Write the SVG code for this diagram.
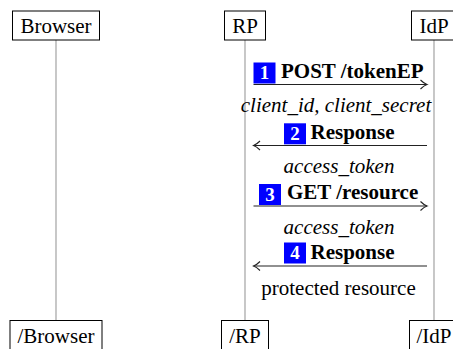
<svg xmlns="http://www.w3.org/2000/svg" width="453" height="349" viewBox="0 0 453 349">
<defs>
<style>
.box{fill:#fff;stroke:#000;stroke-width:1}
.life{stroke:#aaa;stroke-width:1.3;fill:none}
text{font-family:'Liberation Serif','Times New Roman',Times,serif}
.t{font-size:21px;fill:#000}
.b{font-weight:bold}
.i{font-style:italic}
.mid{text-anchor:middle}
.badge{fill:#0000ff}
.num{font-size:19px;font-weight:bold;fill:#fff;text-anchor:middle}
.msg{stroke:#222;stroke-width:1.1;fill:none}
</style>
<marker id="ah" markerWidth="10" markerHeight="12" refX="8" refY="6" orient="auto" markerUnits="userSpaceOnUse">
<path d="M1.5,1.5 Q5,5 8,6 Q5,7 1.5,10.5" fill="none" stroke="#222" stroke-width="1.1"/>
</marker>
</defs>
<g id="lifelines">
<line class="life" x1="56" y1="40" x2="56" y2="321"/>
<line class="life" x1="245" y1="40" x2="245" y2="321"/>
<line class="life" x1="434" y1="40" x2="434" y2="321"/>
</g>
<g id="browser" font-family="Liberation Serif, serif">
<rect class="box" x="12.5" y="11" width="87" height="29"/>
<text class="t mid" x="56" y="32.5">Browser</text>
</g>
<g id="rp" font-family="Liberation Serif, serif">
<rect class="box" x="224.5" y="11" width="41" height="29"/>
<text class="t mid" x="245" y="32.5">RP</text>
</g>
<g id="idp" font-family="Liberation Serif, serif">
<rect class="box" x="411.5" y="11" width="45" height="29"/>
<text class="t mid" x="434" y="32.5">IdP</text>
</g>
<g id="browser-end" font-family="Liberation Serif, serif">
<rect class="box" x="10" y="320.5" width="92" height="29"/>
<text class="t mid" x="56" y="343">/Browser</text>
</g>
<g id="rp-end" font-family="Liberation Serif, serif">
<rect class="box" x="221.5" y="320.5" width="47" height="29"/>
<text class="t mid" x="245" y="343">/RP</text>
</g>
<g id="idp-end" font-family="Liberation Serif, serif">
<rect class="box" x="409.5" y="320.5" width="50" height="29"/>
<text class="t mid" x="434" y="343">/IdP</text>
</g>
<g id="connectors">
<line class="msg" x1="253.5" y1="84.5" x2="427" y2="84.5" marker-end="url(#ah)"/>
<line class="msg" x1="427" y1="145.5" x2="253.5" y2="145.5" marker-end="url(#ah)"/>
<line class="msg" x1="253.5" y1="206" x2="427" y2="206" marker-end="url(#ah)"/>
<line class="msg" x1="427" y1="266" x2="253.5" y2="266" marker-end="url(#ah)"/>
</g>
<g id="labels" font-family="Liberation Serif, serif">
<rect class="badge" x="253.5" y="62.5" width="22" height="21"/>
<text class="num" x="264.5" y="79">1</text>
<text class="t b" x="281" y="78.3">POST /tokenEP</text>
<text class="t i mid" x="336" y="112">client_id, client_secret</text>
<rect class="badge" x="284" y="123.3" width="22" height="21"/>
<text class="num" x="295" y="139.8">2</text>
<text class="t b" x="310.5" y="139.3">Response</text>
<text class="t i mid" x="339" y="173.3">access_token</text>
<rect class="badge" x="259" y="184" width="22" height="21"/>
<text class="num" x="270" y="200.5">3</text>
<text class="t b" x="287" y="199">GET /resource</text>
<text class="t i mid" x="339" y="234.3">access_token</text>
<rect class="badge" x="284" y="242.5" width="22" height="21"/>
<text class="num" x="295" y="259">4</text>
<text class="t b" x="310.5" y="258.5">Response</text>
<text class="t mid" x="338.5" y="295">protected resource</text>
</g>
</svg>
